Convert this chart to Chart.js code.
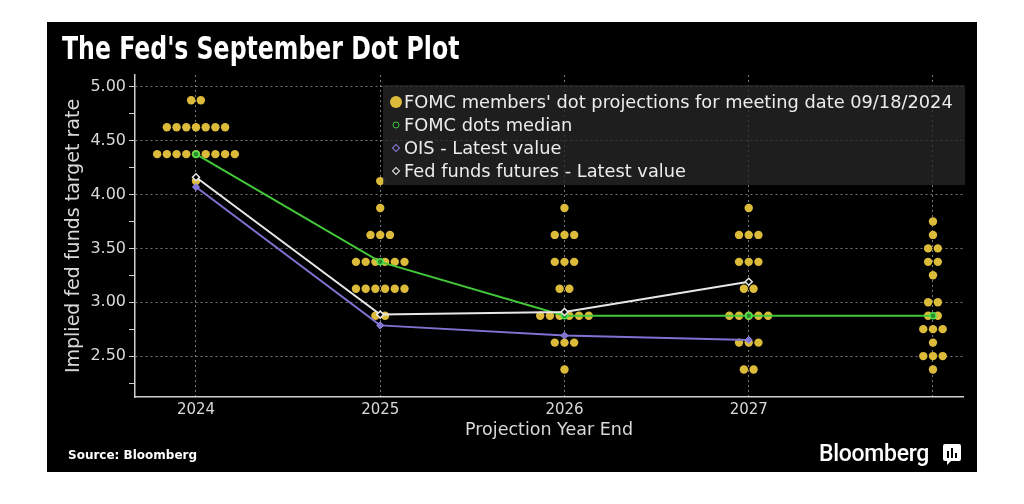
<!DOCTYPE html>
<html>
<head>
<meta charset="utf-8">
<title>The Fed's September Dot Plot</title>
<script src="https://cdn.jsdelivr.net/npm/chart.js@4.4.1/dist/chart.umd.min.js"></script>
<style>
  html, body { margin: 0; padding: 0; background: #fff; }
  body { width: 1024px; height: 504px; position: relative; overflow: hidden; }
  .panel { position: absolute; left: 47px; top: 22px; width: 930px; height: 450px; background: #000; }
  #dotChart { position: absolute; left: 0; top: 0; }
  .title {
    position: absolute; left: 15px; top: 8px; color: #fff; white-space: nowrap;
    font-family: 'DejaVu Sans Condensed', 'DejaVu Sans', sans-serif; font-stretch: condensed;
    font-weight: bold; font-size: 32px; line-height: 36px;
    transform: scaleX(0.82); transform-origin: 0 0;
  }
  .legend {
    position: absolute; left: 336px; top: 63px; width: 582px; height: 100px;
    background: rgba(38, 38, 38, 0.78); box-sizing: border-box; padding-top: 5px;
    font-family: 'DejaVu Sans', sans-serif; font-size: 17.8px; color: #ececec;
  }
  .legend .row { position: relative; height: 23px; line-height: 23px; padding-left: 21px; white-space: nowrap; }
  .legend .mk { position: absolute; top: 50%; left: 13px; transform: translate(-50%, -50%); box-sizing: border-box; }
  .mk.dot { width: 12px; height: 12px; border-radius: 50%; background: #dcbb3a; }
  .mk.med { width: 7px; height: 7px; border-radius: 50%; border: 1.5px solid #3ec43e; }
  .mk.ois { width: 6px; height: 6px; border: 1.5px solid #8a7ee0; transform: translate(-50%, -50%) rotate(45deg); }
  .mk.fut { width: 6px; height: 6px; border: 1.5px solid #eee; transform: translate(-50%, -50%) rotate(45deg); }
  .source {
    position: absolute; left: 21px; top: 426px; color: #fff;
    font-family: 'DejaVu Sans', sans-serif; font-weight: bold; font-size: 12px;
  }
  .brand {
    position: absolute; left: 772px; top: 418px; color: #fff;
    font-family: Roboto, sans-serif; font-weight: 500; font-size: 23px; letter-spacing: -0.3px;
  }
  .brand-icon { position: absolute; left: 895px; top: 421px; }
</style>
</head>
<body>
<div class="panel">
  <canvas id="dotChart" width="930" height="450"></canvas>
  <div class="title">The Fed's September Dot Plot</div>
  <div class="legend">
    <div class="row"><span class="mk dot"></span>FOMC members' dot projections for meeting date 09/18/2024</div>
    <div class="row"><span class="mk med"></span>FOMC dots median</div>
    <div class="row"><span class="mk ois"></span>OIS - Latest value</div>
    <div class="row"><span class="mk fut"></span>Fed funds futures - Latest value</div>
  </div>
  <div class="source">Source: Bloomberg</div>
  <div class="brand">Bloomberg</div>
  <svg class="brand-icon" width="20" height="24" viewBox="0 0 20 24">
    <path d="M3 1h14a2 2 0 0 1 2 2v13a2 2 0 0 1-2 2H9l-4 4v-4H3a2 2 0 0 1-2-2V3a2 2 0 0 1 2-2z" fill="#fff"/>
    <rect x="5" y="8" width="2" height="7" fill="#000"/>
    <rect x="9" y="5" width="2" height="10" fill="#000"/>
    <rect x="13" y="10" width="2" height="5" fill="#000"/>
  </svg>
</div>

<script>
// column labels (the last column, longer run, has no label in the original)
const columns = ['2024', '2025', '2026', '2027', ''];

// FOMC dots: [rate, number of participants]
const dots2024 = [[4.875, 2], [4.625, 7], [4.375, 9], [4.125, 1]];
const dots2025 = [[4.125, 1], [3.875, 1], [3.625, 3], [3.375, 6], [3.125, 6], [2.875, 2]];
const dots2026 = [[3.875, 1], [3.625, 3], [3.375, 3], [3.125, 2], [2.875, 6], [2.625, 3], [2.375, 1]];
const dots2027 = [[3.875, 1], [3.625, 3], [3.375, 3], [3.125, 2], [2.875, 5], [2.625, 3], [2.375, 2]];
const dotsLonger = [[3.75, 1], [3.625, 1], [3.5, 2], [3.375, 2], [3.25, 1], [3.0, 2], [2.875, 2],
                    [2.75, 3], [2.625, 1], [2.5, 3], [2.375, 1]];
const dotColumns = [dots2024, dots2025, dots2026, dots2027, dotsLonger];

// lines
const medianValues = [4.375, 3.375, 2.875, 2.875, 2.875];
const oisValues = [4.07, 2.785, 2.69, 2.65];
const futuresValues = [4.16, 2.885, 2.91, 3.19];

// y axis ticks
const yMajorTicks = [2.5, 3.0, 3.5, 4.0, 4.5, 5.0];
const yMinorTicks = [2.25, 2.75, 3.25, 3.75, 4.25, 4.75];

const DOT_STEP = 0.0527; // horizontal gap between dots, in column units
const TEXT = '#d9d9d9';
const CHART_FONT = "'DejaVu Sans', sans-serif";

// spread the dots of one rate side by side around the column centre
function buildDots() {
    const pts = [];
    dotColumns.forEach((col, i) => {
        col.forEach(([rate, n]) => {
            for (let k = 0; k < n; k++) {
                pts.push({ x: i + (k - (n - 1) / 2) * DOT_STEP, y: rate });
            }
        });
    });
    return pts;
}

const toPoints = values => values.map((y, i) => ({ x: i, y }));

new Chart(document.getElementById('dotChart').getContext('2d'), {
    type: 'scatter',
    data: {
        datasets: [
            {
                label: 'Fed funds futures - Latest value',
                type: 'line',
                data: toPoints(futuresValues),
                borderColor: '#e8e8e8',
                borderWidth: 2,
                pointStyle: 'rectRot',
                pointRadius: 3.5,
                pointBackgroundColor: '#000',
                pointBorderColor: '#e8e8e8',
                pointBorderWidth: 1.5,
                tension: 0,
                order: 1
            },
            {
                label: 'OIS - Latest value',
                type: 'line',
                data: toPoints(oisValues),
                borderColor: '#7f72d2',
                borderWidth: 2,
                pointStyle: 'rectRot',
                pointRadius: 3.5,
                pointBackgroundColor: '#7f72d2',
                pointBorderColor: '#9a8ff0',
                pointBorderWidth: 1,
                tension: 0,
                order: 2
            },
            {
                label: 'FOMC dots median',
                type: 'line',
                data: toPoints(medianValues),
                borderColor: '#42c838',
                borderWidth: 2,
                pointStyle: 'circle',
                pointRadius: 3,
                pointBackgroundColor: '#2a8a2a',
                pointBorderColor: '#4ee04e',
                pointBorderWidth: 1.5,
                tension: 0,
                order: 3
            },
            {
                label: "FOMC members' dot projections for meeting date 09/18/2024",
                data: buildDots(),
                pointRadius: 4.2,
                pointHoverRadius: 4.2,
                backgroundColor: '#dcbb3a',
                borderWidth: 0,
                order: 4
            }
        ]
    },
    options: {
        responsive: false,
        animation: false,
        layout: { padding: { top: 53, right: 14, left: 0, bottom: 0 } },
        plugins: {
            legend: { display: false },
            tooltip: { enabled: false }
        },
        scales: {
            x: {
                type: 'linear',
                min: -0.331,
                max: 4.163,
                afterBuildTicks: scale => {
                    scale.ticks = columns.map((_, i) => ({ value: i }));
                },
                afterFit: scale => { scale.height = 75; },
                ticks: {
                    color: TEXT,
                    font: { family: CHART_FONT, size: 15 },
                    padding: 4,
                    maxRotation: 0,
                    callback: v => columns[v]
                },
                grid: { color: '#7a7a7a', lineWidth: 1, drawTicks: false },
                border: { color: '#d0d0d0', width: 1.5, dash: [2, 3] },
                title: {
                    display: true,
                    text: 'Projection Year End',
                    color: TEXT,
                    font: { family: CHART_FONT, size: 17.5 },
                    padding: { bottom: 31 }
                }
            },
            y: {
                min: 2.12,
                max: 5.11,
                afterBuildTicks: scale => {
                    scale.ticks = [...yMinorTicks, ...yMajorTicks]
                        .sort((a, b) => a - b)
                        .map(v => ({ value: v }));
                },
                afterFit: scale => { scale.width = 88; },
                ticks: {
                    color: TEXT,
                    font: { family: CHART_FONT, size: 16 },
                    padding: 3,
                    callback: v => yMajorTicks.includes(v) ? v.toFixed(2) : ''
                },
                grid: {
                    color: c => (c.tick && yMajorTicks.includes(c.tick.value)) ? '#7a7a7a' : 'transparent',
                    tickColor: '#d0d0d0',
                    tickLength: 6,
                    lineWidth: 1
                },
                border: { color: '#d0d0d0', width: 1.5, dash: [2, 3] },
                title: {
                    display: true,
                    text: 'Implied fed funds target rate',
                    color: TEXT,
                    font: { family: CHART_FONT, size: 19 },
                    padding: { top: 16 }
                }
            }
        }
    }
});
</script>
</body>
</html>
